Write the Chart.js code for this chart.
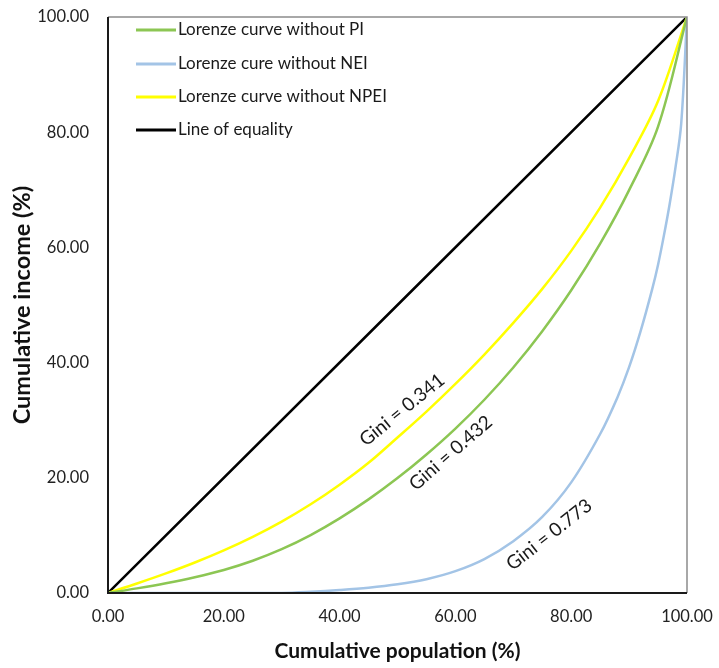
<!DOCTYPE html>
<html>
<head>
<meta charset="utf-8">
<script src="https://cdn.jsdelivr.net/npm/chart.js@4.4.0/dist/chart.umd.min.js"></script>
<style>
  html, body { margin: 0; padding: 0; background: #fff; }
  #wrap { width: 719px; height: 668px; }
</style>
</head>
<body>
<div id="wrap"><canvas id="c" width="719" height="668"></canvas></div>
<script>
// ---- data ----
const seriesNames = ['Lorenze curve without PI', 'Lorenze cure without NEI', 'Lorenze curve without NPEI', 'Line of equality'];

const popPI   = [0, 5, 10, 15, 20, 25, 30, 35, 40, 45, 50, 55, 60, 65, 70, 75, 80, 85, 90, 95, 100];
const incPI   = [0, 0.8, 1.7, 2.75, 4.0, 5.6, 7.6, 10.05, 12.95, 16.25, 19.95, 24.05, 28.55, 33.55, 39.15, 45.45, 52.55, 60.65, 69.95, 80.95, 100];

const popNEI  = [0, 10, 20, 30, 35, 40, 45, 50, 55, 60, 65, 70, 75, 80, 85, 88, 90, 92, 94, 95, 96, 97, 98, 99, 100];
const incNEI  = [0, 0, 0, 0, 0.2, 0.5, 0.9, 1.5, 2.4, 3.8, 5.9, 9.0, 13.2, 19.2, 27.6, 34.0, 39.2, 45.5, 52.8, 57.0, 62.0, 67.5, 73.8, 81.5, 100];

const popNPEI = [0, 5, 10, 15, 20, 25, 30, 35, 40, 45, 50, 55, 60, 65, 70, 75, 80, 85, 90, 95, 100];
const incNPEI = [0, 1.65, 3.4, 5.3, 7.4, 9.75, 12.4, 15.4, 18.8, 22.6, 27.0, 31.5, 36.3, 41.4, 46.9, 52.8, 59.4, 66.9, 75.5, 85.4, 100];

const popEq   = [0, 100];
const incEq   = [0, 100];

const giniTexts = ['Gini = 0.341', 'Gini = 0.432', 'Gini = 0.773'];

const xTicks = [0, 20, 40, 60, 80, 100];
const yTicks = [0, 20, 40, 60, 80, 100];

function pts(xs, ys) { return xs.map((x, i) => ({ x: x, y: ys[i] })); }

const FONT = 'Lato, "Open Sans", sans-serif';

// gini label placement (data coords + angle)
const giniLabels = [
  { text: giniTexts[0], x: 50.8, y: 31.8, angle: -39 },
  { text: giniTexts[1], x: 59.2, y: 24.3, angle: -41 },
  { text: giniTexts[2], x: 76.2, y: 10.1, angle: -38 }
];

const framePlugin = {
  id: 'frame',
  afterDatasetsDraw(chart) {
    const { ctx, chartArea: a } = chart;
    ctx.save();
    ctx.lineWidth = 1.5;
    ctx.strokeStyle = '#8c8c8c';
    ctx.beginPath();
    ctx.moveTo(a.left, a.top);
    ctx.lineTo(a.right, a.top);
    ctx.lineTo(a.right, a.bottom);
    ctx.stroke();
    ctx.strokeStyle = '#1a1a1a';
    ctx.lineWidth = 2;
    ctx.beginPath();
    ctx.moveTo(a.left, a.top);
    ctx.lineTo(a.left, a.bottom);
    ctx.lineTo(a.right, a.bottom);
    ctx.stroke();
    ctx.restore();
  },
  afterDraw(chart) {
    const { ctx, scales } = chart;
    ctx.save();
    ctx.fillStyle = '#1a1a1a';
    ctx.font = '19px ' + FONT;
    ctx.textAlign = 'center';
    ctx.textBaseline = 'middle';
    giniLabels.forEach(l => {
      const px = scales.x.getPixelForValue(l.x);
      const py = scales.y.getPixelForValue(l.y);
      ctx.save();
      ctx.translate(px, py);
      ctx.rotate(l.angle * Math.PI / 180);
      ctx.fillText(l.text, 0, 0);
      ctx.restore();
    });
    ctx.restore();
  }
};

const colors = ['#8cc653', '#a3c4e6', '#ffff00', '#000000'];

function noPad(s) { s.paddingTop = 0; s.paddingBottom = 0; s.paddingLeft = 0; s.paddingRight = 0; }

new Chart(document.getElementById('c'), {
  type: 'line',
  data: {
    datasets: [
      { label: seriesNames[0], data: pts(popPI, incPI), borderColor: colors[0], backgroundColor: colors[0] },
      { label: seriesNames[1], data: pts(popNEI, incNEI), borderColor: colors[1], backgroundColor: colors[1] },
      { label: seriesNames[2], data: pts(popNPEI, incNPEI), borderColor: colors[2], backgroundColor: colors[2] },
      { label: seriesNames[3], data: pts(popEq, incEq), borderColor: colors[3], backgroundColor: colors[3] }
    ]
  },
  options: {
    responsive: false,
    animation: false,
    layout: { padding: { top: 17, right: 32, left: 0, bottom: 0 } },
    elements: {
      point: { radius: 0 },
      line: { borderWidth: 2.5, tension: 0.35, fill: false }
    },
    plugins: {
      legend: { display: false },
      tooltip: { enabled: false }
    },
    scales: {
      x: {
        type: 'linear', min: 0, max: 100,
        afterBuildTicks: s => { s.ticks = xTicks.map(v => ({ value: v })); },
        afterFit: s => { s.height = 75; noPad(s); },
        grid: { display: false, drawTicks: false },
        border: { display: false },
        ticks: { padding: 14, color: '#222', font: { family: FONT, size: 16.5 }, callback: v => Number(v).toFixed(2), maxRotation: 0 },
        title: { display: true, text: 'Cumulative population (%)', color: '#111', font: { family: FONT, size: 21, weight: 'bold' }, padding: { top: 2 } }
      },
      y: {
        type: 'linear', min: 0, max: 100,
        afterBuildTicks: s => { s.ticks = yTicks.map(v => ({ value: v })); },
        afterFit: s => { s.width = 108; noPad(s); },
        grid: { display: false, drawTicks: false },
        border: { display: false },
        ticks: { padding: 19, color: '#222', font: { family: FONT, size: 16.5 }, callback: v => Number(v).toFixed(2) },
        title: { display: true, text: 'Cumulative income (%)', color: '#111', font: { family: FONT, size: 23.5, weight: 'bold' }, padding: { top: 8, bottom: 4 } }
      }
    }
  },
  plugins: [framePlugin, {
    id: 'customLegend',
    afterDraw(chart) {
      const { ctx, chartArea: a } = chart;
      ctx.save();
      ctx.font = '17px ' + FONT;
      ctx.textBaseline = 'middle';
      ctx.textAlign = 'left';
      const rows = [30, 64, 97, 130];
      chart.data.datasets.forEach((d, i) => {
        const y = rows[i];
        ctx.strokeStyle = d.borderColor;
        ctx.lineWidth = 3;
        ctx.beginPath();
        ctx.moveTo(a.left + 28, y);
        ctx.lineTo(a.left + 68, y);
        ctx.stroke();
        ctx.fillStyle = '#1a1a1a';
        ctx.fillText(d.label, a.left + 70, y);
      });
      ctx.restore();
    }
  }]
});
</script>
</body>
</html>
